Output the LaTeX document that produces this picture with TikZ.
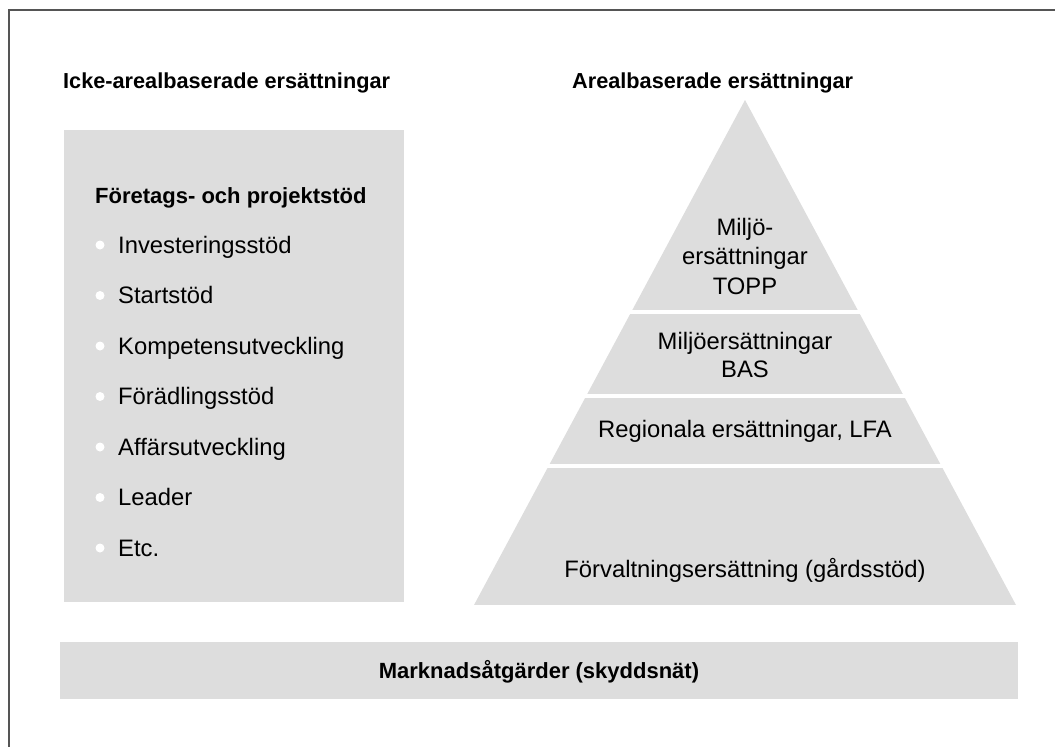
\documentclass[tikz,border=0pt]{standalone}
\usepackage{fontspec}
\setmainfont{Liberation Sans}
\definecolor{boxgray}{HTML}{DDDDDD}
\definecolor{framegray}{HTML}{555555}
\begin{document}
\begin{tikzpicture}[x=1pt,y=-1pt,
  boldtxt/.style={font=\fontsize{22}{27}\selectfont\bfseries, inner sep=0pt},
  plaintxt/.style={font=\fontsize{23.8}{30}\selectfont, inner sep=0pt},
  bulletdot/.style={circle, fill=white, inner sep=0pt, minimum size=9pt},
  layerfill/.style={fill=boxgray}]
\useasboundingbox (0,0) rectangle (1055,747);
\draw[framegray, line width=2pt] (9,747) -- (9,10) -- (1055,10);

% titles
\node[boldtxt, anchor=base west, font=\fontsize{21.7}{27}\selectfont\bfseries] (tleft) at (63,88) {Icke-arealbaserade ersättningar};
\node[boldtxt, anchor=base west, font=\fontsize{21.7}{27}\selectfont\bfseries] (tright) at (572,88) {Arealbaserade ersättningar};

% left box
\fill[boxgray] (64,130) rectangle (404,602);
\node[boldtxt, anchor=base west] (hdr) at (95,203) {Företags- och projektstöd};
\foreach \t [count=\i from 0] in {Investeringsstöd,Startstöd,Kompetensutveckling,Förädlingsstöd,Affärsutveckling,Leader,Etc.}{
  \node[plaintxt, anchor=base west] (item\i) at (118,{253+50.5*\i}) {\t};
  \node[bulletdot] (dot\i) at (100,{245+50.5*\i}) {};
}

% pyramid
\begin{scope}
\clip (745,100) -- (474,605) -- (1016,605) -- cycle;
\fill[layerfill] (400,90) rectangle (1100,310);
\fill[layerfill] (400,314) rectangle (1100,394);
\fill[layerfill] (400,398) rectangle (1100,464);
\fill[layerfill] (400,468) rectangle (1100,605);
\end{scope}
\node[plaintxt, align=center, font=\fontsize{23.8}{29.5}\selectfont] (l1) at (745,256) {Miljö-\\ersättningar\\TOPP};
\node[plaintxt, align=center, font=\fontsize{23.8}{28}\selectfont] (l2) at (745,355) {Miljöersättningar\\BAS};
\node[plaintxt, anchor=base] (l3) at (745,437) {Regionala ersättningar, LFA};
\node[plaintxt, anchor=base] (l4) at (745,577) {Förvaltningsersättning (gårdsstöd)};

% bottom bar
\fill[boxgray] (60,642) rectangle (1018,699);
\node[boldtxt, anchor=base] (market) at (539,678) {Marknadsåtgärder (skyddsnät)};
\end{tikzpicture}
\end{document}
